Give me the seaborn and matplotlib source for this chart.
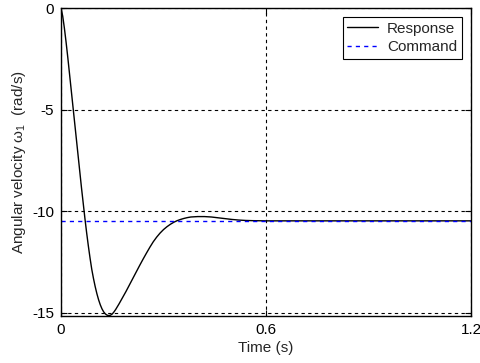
import matplotlib
matplotlib.use("Agg")
import matplotlib.pyplot as plt
import seaborn as sns
import pandas as pd

# Step response of the angular velocity (rad/s) against time (s)
time_s = [0.000, 0.005, 0.010, 0.015, 0.020, 0.025, 0.030, 0.035, 0.040, 0.045,
          0.050, 0.055, 0.060, 0.065, 0.070, 0.075, 0.080, 0.085, 0.090, 0.095,
          0.100, 0.105, 0.110, 0.115, 0.120, 0.125, 0.130, 0.135, 0.140, 0.145,
          0.150, 0.155, 0.160, 0.165, 0.170, 0.180, 0.190, 0.200, 0.210, 0.220,
          0.230, 0.240, 0.250, 0.260, 0.270, 0.280, 0.290, 0.300, 0.310, 0.320,
          0.330, 0.340, 0.350, 0.360, 0.370, 0.380, 0.400, 0.420, 0.440, 0.460,
          0.480, 0.500, 0.520, 0.540, 0.560, 0.600, 0.800, 1.000, 1.200]
response = [0.00, -0.40, -1.00, -1.70, -2.45, -3.25, -4.05, -4.85, -5.65, -6.45,
            -7.25, -8.05, -8.85, -9.60, -10.35, -11.05, -11.70, -12.30, -12.85, -13.30,
            -13.70, -14.05, -14.35, -14.60, -14.80, -14.95, -15.05, -15.11, -15.13, -15.11,
            -15.05, -14.95, -14.83, -14.69, -14.55, -14.25, -13.95, -13.63, -13.31, -12.99,
            -12.67, -12.36, -12.06, -11.77, -11.50, -11.27, -11.07, -10.90, -10.76, -10.64,
            -10.54, -10.46, -10.40, -10.35, -10.31, -10.28, -10.26, -10.26, -10.28, -10.32,
            -10.36, -10.40, -10.43, -10.45, -10.46, -10.47, -10.47, -10.47, -10.47]

command_time = [0.0, 1.2]
command = [-10.47, -10.47]

x_ticks = [0, 0.6, 1.2]
x_tick_labels = ["0", "0.6", "1.2"]
y_ticks = [-15, -10, -5, 0]
y_tick_labels = ["-15", "-10", "-5", "0"]

resp_df = pd.DataFrame({"t": time_s, "w": response})
cmd_df = pd.DataFrame({"t": command_time, "w": command})

sns.set_style("white")
plt.rcParams["font.family"] = ["Liberation Sans", "DejaVu Sans"]
plt.rcParams["axes.unicode_minus"] = False
plt.rcParams["mathtext.fontset"] = "custom"
plt.rcParams["mathtext.rm"] = "Liberation Sans"
plt.rcParams["mathtext.it"] = "Liberation Sans"

FS = 11

fig = plt.figure(figsize=(4.81, 3.63), dpi=100)
fig.patch.set_facecolor("white")
ax = fig.add_axes([61 / 481, 1 - 316 / 363, (471 - 61) / 481, (316 - 8) / 363])

sns.lineplot(data=resp_df, x="t", y="w", ax=ax, color="black", linewidth=1.0,
             label="Response", sort=False)
sns.lineplot(data=cmd_df, x="t", y="w", ax=ax, color="#0000ff", linewidth=1.0,
             linestyle=(0, (3, 3)), label="Command", sort=False)

ax.set_xlim(0, 1.2)
ax.set_ylim(-15.15, 0)
ax.set_xticks(x_ticks)
ax.set_xticklabels(x_tick_labels)
ax.set_yticks(y_ticks)
ax.set_yticklabels(y_tick_labels)

ax.grid(True, color="black", linestyle=(0, (3, 3)), linewidth=0.8)
ax.set_axisbelow(True)
for side in ax.spines.values():
    side.set_visible(True)
    side.set_color("black")
    side.set_linewidth(1.0)

ax.tick_params(axis="both", direction="in", length=4, width=0.8, colors="black",
               labelsize=FS, top=True, right=True, bottom=True, left=True, pad=5)

ax.set_xlabel("Time (s)", fontsize=FS, labelpad=3)
ax.set_ylabel("Angular velocity ω$_{1}$  (rad/s)", fontsize=FS, labelpad=3)

leg = ax.legend(loc="upper right", fontsize=FS, frameon=True, fancybox=False,
                edgecolor="black", framealpha=1, handlelength=2.0,
                borderpad=0.3, labelspacing=0.3, handletextpad=0.6,
                borderaxespad=0.6)
leg.get_frame().set_linewidth(0.8)

fig.savefig("out.png", dpi=100, facecolor="white")
